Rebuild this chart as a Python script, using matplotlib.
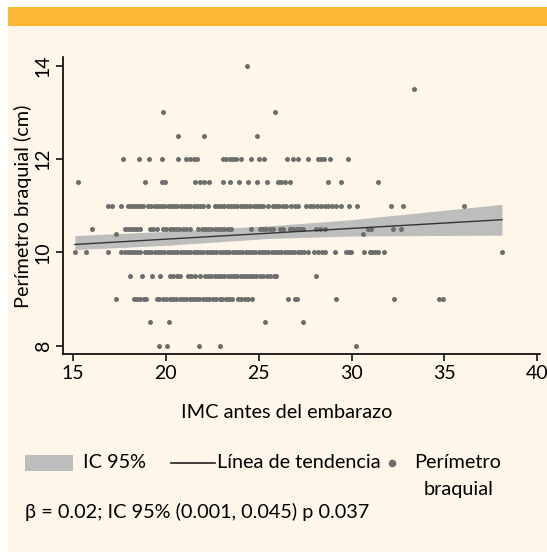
import numpy as np
import matplotlib
matplotlib.use("Agg")
import matplotlib.pyplot as plt
from matplotlib.patches import Rectangle
from matplotlib.lines import Line2D

# Scatter data: BMI values for each observed arm-circumference level (cm)
row_8 = [19.64, 20.04, 21.79, 22.94, 30.25]
row_8_5 = [19.14, 20.16, 25.32, 27.40]
row_9 = [17.29, 18.28, 18.45, 18.62, 18.80, 18.92, 19.50, 19.65, 19.82, 20.00,
         20.20, 20.40, 20.55, 20.75, 20.92, 21.10, 21.30, 21.45, 21.62, 21.80,
         21.98, 22.15, 22.35, 22.52, 22.70, 22.90, 23.05, 23.25, 23.40, 23.58,
         23.89, 24.05, 24.25, 24.45, 24.66, 26.58, 26.95, 27.08, 29.17, 32.26,
         34.73, 34.90]
row_9_5 = [18.06, 18.74, 19.28, 19.68, 20.22, 20.40, 20.62, 20.75, 21.20, 21.38,
           21.55, 21.83, 22.10, 22.28, 22.45, 22.62, 22.80, 22.98, 23.15, 23.32,
           23.50, 23.68, 23.85, 24.02, 24.20, 24.38, 24.52, 24.70, 24.88, 25.05,
           25.25, 25.45, 25.62, 25.80, 25.95, 28.10]
row_10 = [15.11, 15.70, 16.86, 17.61, 17.78, 17.95, 18.12, 18.30, 18.45, 18.60,
          18.87, 19.05, 19.22, 19.40, 19.58, 19.75, 19.92, 20.10, 20.28, 20.45,
          20.62, 20.80, 20.98, 21.15, 21.32, 21.50, 21.68, 21.85, 22.02, 22.20,
          22.38, 22.55, 22.72, 22.90, 23.08, 23.25, 23.42, 23.60, 23.78, 23.95,
          24.12, 24.30, 24.48, 24.65, 24.82, 25.00, 25.18, 25.35, 25.52, 25.70,
          25.88, 26.05, 26.22, 26.40, 26.58, 26.75, 26.92, 27.10, 27.28, 27.45,
          27.65, 28.00, 28.20, 28.40, 28.55, 29.09, 29.71, 29.85, 29.98, 30.65,
          30.97, 31.10, 31.25, 31.40, 31.77, 38.10]
row_10_4 = [17.34, 30.61]
row_10_5 = [16.04, 17.80, 17.95, 18.12, 18.30, 18.45, 18.60, 19.14, 19.30, 19.50,
            19.86, 20.02, 20.20, 20.38, 20.55, 20.72, 20.90, 21.08, 21.29, 21.74,
            21.92, 22.10, 22.28, 22.45, 22.62, 22.80, 22.98, 23.15, 23.35, 23.53,
            24.60, 25.05, 25.22, 25.40, 25.59, 25.77, 26.13, 26.29, 26.67, 26.85,
            27.05, 27.20, 27.37, 28.10, 28.30, 28.55, 30.86, 31.06, 32.22, 32.67]
row_11 = [16.90, 17.08, 17.56, 17.97, 18.12, 18.28, 18.45, 18.60, 18.78, 19.05,
          19.22, 19.40, 19.58, 19.75, 19.92, 20.10, 20.28, 20.45, 20.62, 20.80,
          20.98, 21.15, 21.32, 21.50, 21.68, 21.85, 22.02, 22.27, 22.63, 22.80,
          22.98, 23.15, 23.32, 23.50, 23.68, 23.85, 24.02, 24.20, 24.38, 24.55,
          24.72, 24.90, 25.08, 25.25, 25.50, 25.77, 25.95, 26.10, 26.30, 26.49,
          26.75, 26.95, 27.11, 27.56, 27.75, 27.95, 28.15, 28.35, 28.55, 28.75,
          28.95, 29.17, 29.44, 29.89, 30.28, 32.13, 32.76, 36.04]
row_11_5 = [15.29, 18.87, 19.77, 19.95, 21.56, 21.83, 22.04, 22.31, 23.08, 23.48,
            23.92, 24.42, 24.91, 25.44, 26.04, 26.22, 26.40, 26.67, 28.73, 29.44,
            31.41]
row_12 = [17.71, 18.55, 19.10, 19.77, 20.63, 21.08, 21.29, 21.51, 21.68, 23.08,
          23.26, 23.44, 23.62, 23.80, 24.07, 24.57, 25.02, 25.27, 26.52, 26.85,
          27.11, 27.65, 28.19, 28.37, 28.49, 28.82, 29.80]
row_12_5 = [20.66, 22.06, 24.91]
row_13 = [19.84, 25.88]
row_13_5 = [33.39]
row_14 = [24.35]

levels = [8, 8.5, 9, 9.5, 10, 10.4, 10.5, 11, 11.5, 12, 12.5, 13, 13.5, 14]
rows = [row_8, row_8_5, row_9, row_9_5, row_10, row_10_4, row_10_5, row_11,
        row_11_5, row_12, row_12_5, row_13, row_13_5, row_14]

# Fitted trend and 95% CI band
trend_x = [15.1, 38.1]
trend_y = [10.17, 10.70]
band_x = [15.1, 20.0, 25.6, 30.0, 38.1]
band_hi = [10.36, 10.45, 10.57, 10.70, 11.03]
band_lo = [10.06, 10.15, 10.30, 10.35, 10.37]

CREAM = "#fdf6e9"
ORANGE = "#fbb933"
DOT = "#6e6e6e"
BAND = "#bdbdbd"
FS = 14.3

plt.rcParams["font.family"] = ["Lato", "DejaVu Sans"]

W, H = 547, 552
fig = plt.figure(figsize=(W / 100, H / 100), dpi=100, facecolor="white")

# cream panel and orange header strip
fig.add_artist(Rectangle((8 / W, 0), 1, 1 - 26 / H, transform=fig.transFigure,
                         facecolor=CREAM, edgecolor="none", zorder=0))
fig.add_artist(Rectangle((8 / W, 1 - 26 / H), 1, 19 / H, transform=fig.transFigure,
                         facecolor=ORANGE, edgecolor="none", zorder=0))

ax = fig.add_axes([63 / W, 1 - 354 / H, 477 / W, 297 / H])
ax.patch.set_alpha(0)

xs = np.concatenate([np.array(r) for r in rows])
ys = np.concatenate([np.full(len(r), lv) for r, lv in zip(rows, levels)])

ax.fill_between(band_x, band_lo, band_hi, color=BAND, lw=0, zorder=1)
ax.scatter(xs, ys, s=13, color=DOT, lw=0, zorder=2)
ax.plot(trend_x, trend_y, color="#333333", lw=1.0, zorder=3)

ax.set_xlim(14.46, 40.15)
ax.set_ylim(7.82, 14.19)
ax.set_xticks([15, 20, 25, 30, 35, 40])
ax.set_yticks([8, 10, 12, 14])
for s in ["top", "right"]:
    ax.spines[s].set_visible(False)
for s in ["left", "bottom"]:
    ax.spines[s].set_linewidth(1.2)
ax.tick_params(axis="both", direction="out", length=5, width=1.1,
               labelsize=14, pad=3)
for lab in ax.get_yticklabels():
    lab.set_rotation(90)
    lab.set_va("center")

fig.text(23 / W, 1 - 206 / H, "Perímetro braquial (cm)", fontsize=FS,
         rotation=90, ha="center", va="center")
fig.text(287 / W, 1 - 413 / H, "IMC antes del embarazo", fontsize=FS,
         ha="center", va="center")

# legend drawn by hand below the plot
ly = 1 - 463 / H
fig.add_artist(Rectangle((25 / W, 1 - 471 / H), 48 / W, 16 / H,
                         transform=fig.transFigure, facecolor=BAND,
                         edgecolor="none"))
fig.text(83 / W, ly, "IC 95%", fontsize=FS, va="center")
fig.add_artist(Line2D([171 / W, 215 / W], [ly, ly], transform=fig.transFigure,
                      color="#222222", lw=1.2))
fig.text(217 / W, ly, "Línea de tendencia", fontsize=FS, va="center")
fig.add_artist(Line2D([392 / W], [ly], transform=fig.transFigure, marker="o",
                      ms=4.5, color=DOT, lw=0))
fig.text(414 / W, ly, "Perímetro", fontsize=FS, va="center")
fig.text(459 / W, 1 - 490 / H, "braquial", fontsize=FS, ha="center", va="center")

fig.text(25 / W, 1 - 512 / H, "β = 0.02; IC 95% (0.001, 0.045) p 0.037",
         fontsize=FS, va="center")

fig.savefig("out.png", dpi=100, facecolor="white")
